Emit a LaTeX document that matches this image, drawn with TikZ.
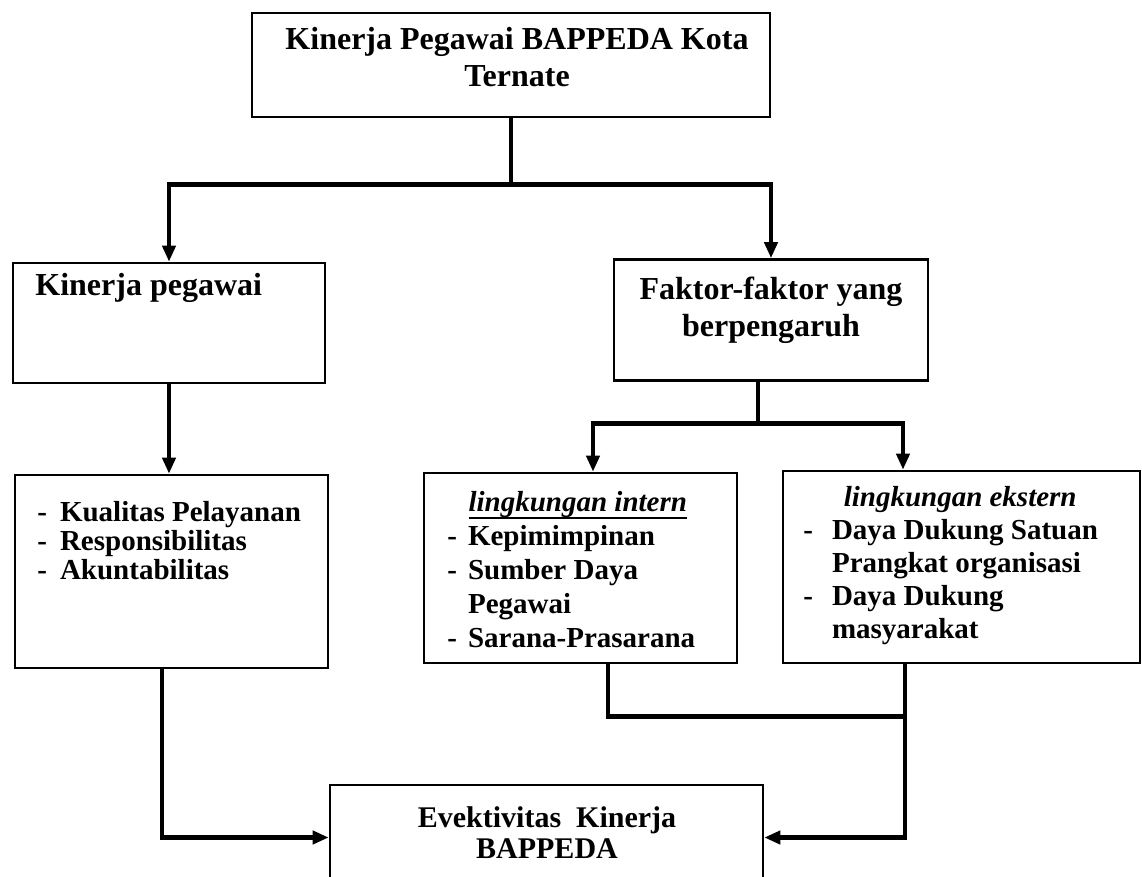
\documentclass[tikz,border=0pt]{standalone}
\usepackage{fontspec}
\setmainfont{Liberation Serif}
\usetikzlibrary{arrows.meta,calc}

\newcommand{\thickul}[1]{\setbox0\hbox{#1}\rlap{\rule[-3.4pt]{\wd0}{1.1pt}}\box0}

\begin{document}
\begin{tikzpicture}
    [ x=0.5pt, y=-0.5pt,
      box/.style={draw=black, line width=1.3pt, inner sep=0pt},
      head/.style={inner sep=0pt, font=\bfseries\fontsize{16pt}{18.5pt}\selectfont},
      item/.style={inner sep=0pt, anchor=base west, font=\bfseries\fontsize{14.5pt}{14.5pt}\selectfont},
      conn/.style={black, line width=2.4pt},
      arrow/.style={conn, -{Triangle[length=8pt, width=6.5pt]}}]

  \useasboundingbox (0,0) rectangle (1142,877);

%%%%%%%%%%%%%%%%%%%%%%%%%%%%%%%%%%%%%%%%%%%%%%%%%%%%%%%%%%%%%%%%%%%%%%%%%%%%%%%%
%draw boxes
  \node[box, minimum width=259pt, minimum height=52pt]   (top)     at (511,65)      {};
  \node[box, minimum width=156pt, minimum height=60pt]   (kp)      at (169,323)     {};
  \node[box, minimum width=157pt, minimum height=60.5pt] (faktor)  at (771,320)     {};
  \node[box, minimum width=156.5pt, minimum height=96.5pt] (kual)  at (171.5,571.5) {};
  \node[box, minimum width=156.5pt, minimum height=95pt] (intern)  at (580.5,568)   {};
  \node[box, minimum width=178.5pt, minimum height=96pt] (ekstern) at (961.5,567)   {};
  \node[box, minimum width=216.5pt, minimum height=52.5pt] (bottom) at (546.5,837.5) {};

%%%%%%%%%%%%%%%%%%%%%%%%%%%%%%%%%%%%%%%%%%%%%%%%%%%%%%%%%%%%%%%%%%%%%%%%%%%%%%%%
%insert texts
  \node[head, anchor=base] (topText) at (517,50)
    {\begin{tabular}[t]{@{}c@{}}Kinerja Pegawai BAPPEDA Kota\\Ternate\end{tabular}};
  \node[head, anchor=base west] (kpText) at (35,296) {Kinerja pegawai};
  \node[head, anchor=base] (faktorText) at (771,300)
    {\begin{tabular}[t]{@{}c@{}}Faktor-faktor yang\\berpengaruh\end{tabular}};
  \node[item] (kualText) at (37,522)
    {\begin{tabular}[t]{@{}l@{\hspace{6.5pt}}l@{}}-&Kualitas Pelayanan\\-&Responsibilitas\\-&Akuntabilitas\end{tabular}};
  \node[item, font=\bfseries\fontsize{14.5pt}{17pt}\selectfont] (internText) at (447,512)
    {\begin{tabular}[t]{@{}l@{\hspace{5.5pt}}l@{}}\multicolumn{2}{@{\hspace{6.5pt}}c@{}}{\thickul{\itshape lingkungan intern}}\\-&Kepimimpinan\\-&Sumber Daya\\&Pegawai\\-&Sarana-Prasarana\end{tabular}};
  \node[item, font=\bfseries\fontsize{14.5pt}{16.5pt}\selectfont] (eksternText) at (803,507)
    {\begin{tabular}[t]{@{}l@{\hspace{9.5pt}}l@{}}\multicolumn{2}{@{\hspace{9.5pt}}c@{}}{\itshape lingkungan ekstern}\\-&Daya Dukung Satuan\\&Prangkat organisasi\\-&Daya Dukung\\&masyarakat\end{tabular}};
  \node[head, anchor=base, font=\bfseries\fontsize{15pt}{15.5pt}\selectfont] (bottomText) at (547,827)
    {\begin{tabular}[t]{@{}c@{}}Evektivitas\ \ Kinerja\\BAPPEDA\end{tabular}};

%%%%%%%%%%%%%%%%%%%%%%%%%%%%%%%%%%%%%%%%%%%%%%%%%%%%%%%%%%%%%%%%%%%%%%%%%%%%%%%%
%draw connectors
  \coordinate (split1) at ($(top.south)+(0,66)$);
  \draw[conn]  (top.south) -- (split1);
  \draw[arrow] (split1) -| (kp.north);
  \draw[arrow] (split1) -| (faktor.north);

  \draw[arrow] (kp.south) -- (kp.south |- kual.north);

  \coordinate (split2) at ($(faktor.south)+(-13,42)$);
  \draw[conn]  (faktor.south -| split2) -- (split2);
  \draw[arrow] (split2) -| ($(intern.north)+(12.5,0)$);
  \draw[arrow] (split2) -| ($(ekstern.north)+(-58.5,0)$);

  \coordinate (join) at ($(ekstern.south)+(-56.5,52)$);
  \draw[conn]  ($(intern.south)+(27.5,0)$) |- (join);
  \draw[arrow] (ekstern.south -| join) -- (join) |- (bottom.east);
  \draw[arrow] ($(kual.south)+(-9.5,0)$) |- (bottom.west);

\end{tikzpicture}
\end{document}
